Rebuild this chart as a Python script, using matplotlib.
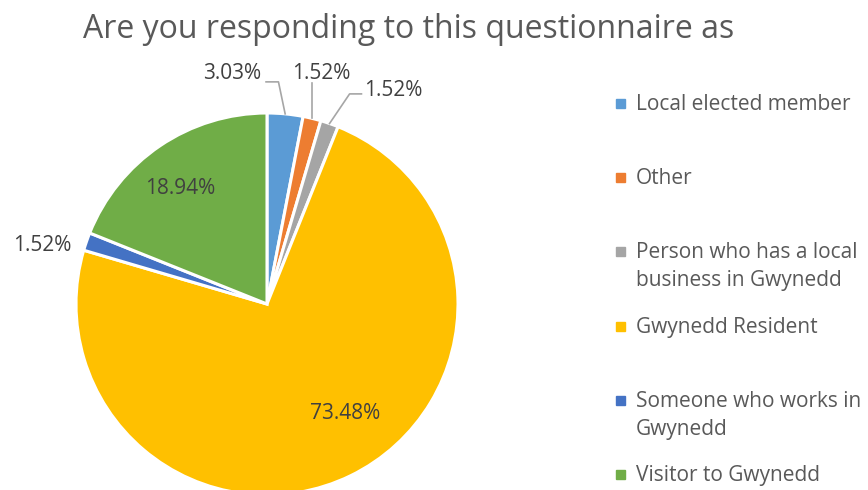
import matplotlib.pyplot as plt
import numpy as np
from matplotlib.patches import Rectangle

plt.rcParams['font.family'] = ['Open Sans', 'DejaVu Sans']

title = "Are you responding to this questionnaire as"
categories = ["Local elected member", "Other",
              "Person who has a local\nbusiness in Gwynedd",
              "Gwynedd Resident",
              "Someone who works in\nGwynedd",
              "Visitor to Gwynedd"]
shares = [3.03, 1.52, 1.52, 73.48, 1.52, 18.94]
colors = ["#5B9BD5", "#ED7D31", "#A5A5A5", "#FFC000", "#4472C4", "#70AD47"]

# label positions in pie-radius units
label_pos = [(-0.185, 1.205), (0.283, 1.205), (0.66, 1.12), (0.41, -0.575), (-1.175, 0.305), (-0.455, 0.605)]
leader = [True, True, True, False, False, False]

W, H = 868, 490
fig = plt.figure(figsize=(W / 100, H / 100), dpi=100)
cx, cy, R = 267, 304, 191
ax = fig.add_axes([(cx - R) / W, (H - cy - R) / H, 2 * R / W, 2 * R / H])
ax.axis('off')

wedges, _ = ax.pie(shares, colors=colors, startangle=90, counterclock=False, radius=1,
                   wedgeprops=dict(edgecolor='white', linewidth=2.2))
ax.set_xlim(-1, 1)
ax.set_ylim(-1, 1)
ax.set_aspect('equal')

txt_col = "#404040"
for w, v, (lx, ly), ld in zip(wedges, shares, label_pos, leader):
    ang = np.deg2rad((w.theta1 + w.theta2) / 2)
    ex, ey = np.cos(ang), np.sin(ang)
    ax.text(lx, ly, f"{v:.2f}%", ha='center', va='center', fontsize=15, color=txt_col, clip_on=False)
    if not ld:
        continue
    if lx < ex - 0.05:
        # label to the left: line runs up, then left under the text end
        xs = [ex, ex - 0.035, ex - 0.10]
        ys = [ey, ly - 0.042, ly - 0.042]
    elif lx > ex + 0.1:
        xs = [ex, ex + 0.105, ex + 0.167]
        ys = [ey, ly - 0.02, ly - 0.02]
    else:
        xs = [ex, ex]
        ys = [ey, ly - 0.05]
    ax.plot(xs, ys, color="#A6A6A6", lw=1.2, clip_on=False)

fig.text(409 / W, 1 - 29 / H, title, ha='center', va='center', fontsize=23, color="#595959")

# legend
lx0, ly0, step = 620, 104, 74.2
for i, (lab, c) in enumerate(zip(categories, colors)):
    y = ly0 + i * step
    fig.patches.append(Rectangle(((lx0 - 4) / W, 1 - (y + 4) / H), 9 / W, 9 / H,
                                 transform=fig.transFigure, color=c))
    fig.text(636 / W, 1 - (y - 10) / H, lab, ha='left', va='top', fontsize=15,
             color="#595959", linespacing=1.42)

fig.savefig("out.png", dpi=100)
